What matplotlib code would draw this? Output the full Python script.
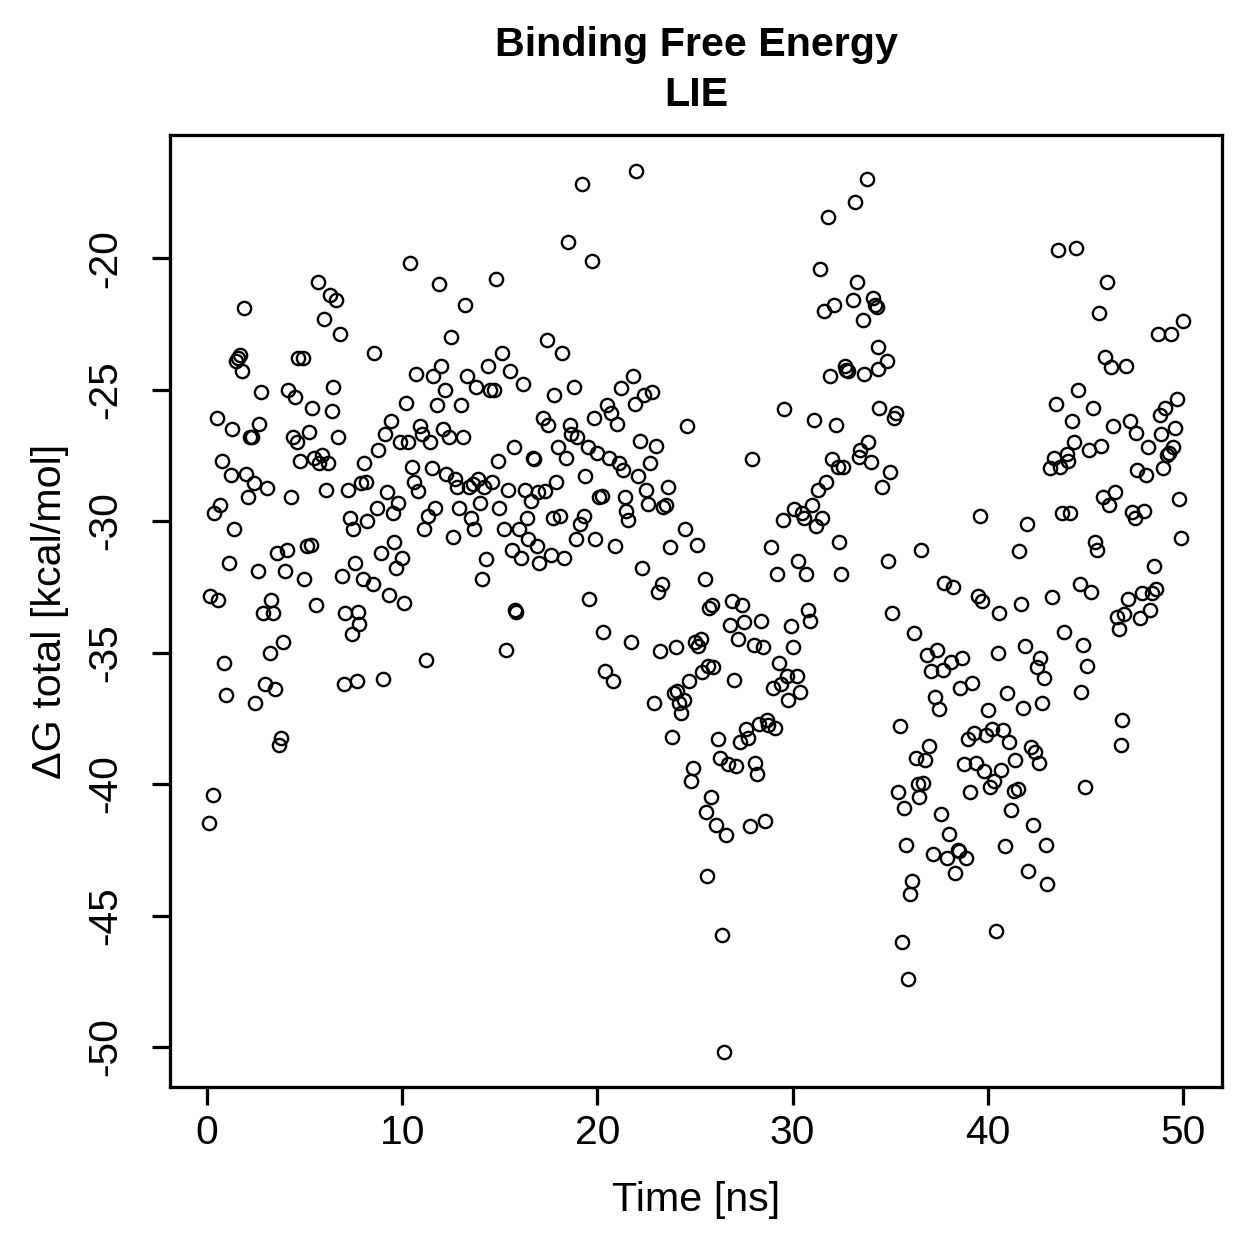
import matplotlib
matplotlib.use('Agg')
import matplotlib.pyplot as plt

plt.rcParams['font.family'] = ['Liberation Sans', 'DejaVu Sans']

# values (time in ns, dG in kcal/mol)
time_ns = [
  0.1, 0.15, 0.3, 0.35, 0.5, 0.55, 0.65, 0.75, 0.85, 0.95,
  1.1, 1.25, 1.3, 1.4, 1.5, 1.6, 1.7, 1.8, 1.9, 2.0,
  2.1, 2.2, 2.3, 2.4, 2.45, 2.6, 2.65, 2.75, 2.85, 2.95,
  3.05, 3.2, 3.3, 3.4, 3.5, 3.6, 3.7, 3.8, 3.9, 4.0,
  4.1, 4.15, 4.3, 4.4, 4.5, 4.6, 4.65, 4.75, 4.9, 4.95,
  5.1, 5.2, 5.3, 5.4, 5.5, 5.6, 5.7, 5.75, 5.9, 6.0,
  6.1, 6.2, 6.3, 6.4, 6.45, 6.6, 6.7, 6.8, 6.9, 7.0,
  7.05, 7.2, 7.3, 7.4, 7.5, 7.6, 7.7, 7.75, 7.8, 7.9,
  8.0, 8.05, 8.15, 8.2,
  8.5, 8.55, 8.7, 8.75, 8.9, 9.0, 9.1, 9.2, 9.3, 9.4,
  9.5, 9.6, 9.7, 9.8, 9.9, 10.0, 10.1, 10.2, 10.3, 10.4,
  10.5, 10.6, 10.7, 10.8, 10.9, 11.0, 11.1, 11.2, 11.3, 11.4,
  11.5, 11.6, 11.7, 11.8, 11.9, 12.0, 12.1, 12.2, 12.25, 12.4,
  12.5, 12.6, 12.7, 12.8, 12.9, 13.0, 13.1, 13.2, 13.3, 13.4,
  13.5, 13.6, 13.7, 13.8, 13.9, 14.0, 14.1, 14.2, 14.3, 14.4,
  14.5, 14.6, 14.7, 14.8, 14.9, 14.95, 15.1, 15.2, 15.3, 15.4,
  15.5, 15.6, 15.7, 15.8, 15.85, 16.0, 16.1, 16.2, 16.3, 16.4,
  16.45, 16.6, 16.7, 16.75, 16.9, 16.95, 17.0,
  17.2, 17.3, 17.4, 17.45, 17.6, 17.7, 17.8, 17.9, 18.0, 18.1,
  18.2, 18.3, 18.4, 18.5, 18.6, 18.65, 18.8, 18.9, 18.95, 19.1,
  19.2, 19.3, 19.35, 19.5, 19.55, 19.7, 19.8, 19.9, 20.0, 20.1,
  20.25, 20.3, 20.4, 20.5, 20.6, 20.7, 20.8, 20.9, 21.0, 21.1,
  21.2, 21.3, 21.4, 21.45, 21.55, 21.7, 21.8, 21.9, 22.0, 22.1,
  22.2, 22.3, 22.4, 22.5, 22.6, 22.7, 22.8, 22.9, 23.0, 23.1,
  23.2, 23.3, 23.35, 23.5, 23.6, 23.7, 23.8, 23.9, 24.0, 24.1,
  24.2, 24.3, 24.45, 24.5, 24.6, 24.7, 24.8, 24.9, 25.0, 25.1,
  25.15, 25.3, 25.35, 25.5, 25.55, 25.6, 25.65, 25.7, 25.8,
  25.85, 25.9, 26.1, 26.2, 26.3, 26.4, 26.5, 26.6, 26.7, 26.8,
  26.9, 27.0, 27.1, 27.2, 27.3, 27.4, 27.5, 27.6, 27.7, 27.8,
  27.9, 28.0, 28.05, 28.2, 28.3, 28.4, 28.5, 28.6, 28.7, 28.75,
  28.9, 29.0, 29.1, 29.2, 29.3, 29.4, 29.5, 29.55, 29.7, 29.75,
  29.9, 30.0, 30.05, 30.2, 30.3, 30.4, 30.5, 30.6, 30.7, 30.8,
  30.9, 31.0, 31.1, 31.2, 31.3, 31.4, 31.5, 31.6, 31.7, 31.8,
  31.9, 32.0, 32.1, 32.2, 32.3, 32.4, 32.5, 32.6, 32.7, 32.75,
  32.85, 33.1, 33.2, 33.3, 33.4, 33.45, 33.6, 33.65, 33.8, 33.85,
  34.0, 34.1, 34.2, 34.3, 34.35, 34.4, 34.45, 34.6,
  34.85, 34.9, 35.0, 35.1, 35.2, 35.3, 35.4, 35.5, 35.6, 35.7,
  35.8, 35.9, 36.0, 36.1, 36.2, 36.3, 36.4, 36.5, 36.6, 36.7,
  36.8, 36.9, 37.0, 37.1, 37.2, 37.3, 37.4, 37.5, 37.6, 37.7,
  37.75, 37.9, 38.0, 38.1, 38.2, 38.3, 38.45, 38.55, 38.6, 38.7,
  38.8, 38.9, 39.0, 39.1, 39.2, 39.3, 39.4, 39.5, 39.6, 39.7,
  39.8, 39.9, 40.0, 40.1, 40.2, 40.3, 40.4, 40.5, 40.6, 40.7,
  40.8, 40.9, 41.0, 41.1, 41.2, 41.35, 41.4, 41.55, 41.6, 41.7,
  41.8, 41.9, 42.0, 42.05, 42.2, 42.3, 42.4, 42.5, 42.6, 42.65,
  42.8, 42.9, 43.0, 43.05,
  43.2, 43.3, 43.4, 43.5, 43.6, 43.7, 43.8, 43.9, 44.05, 44.1,
  44.2, 44.3, 44.4, 44.5, 44.6, 44.7, 44.8, 44.9, 45.0, 45.1,
  45.2, 45.3, 45.4, 45.5, 45.6, 45.7, 45.8, 45.9, 46.0, 46.1,
  46.2, 46.3, 46.4, 46.5, 46.6, 46.7, 46.8, 46.9, 47.0, 47.1,
  47.2, 47.3, 47.4, 47.55, 47.6, 47.65, 47.8, 47.9, 48.0, 48.1,
  48.2, 48.3, 48.4, 48.5, 48.6, 48.7, 48.8, 48.9, 49.0, 49.1,
  49.2, 49.3, 49.4, 49.5, 49.6, 49.7, 49.8, 49.9, 50.0,
]

dg_total = [
  -41.5, -32.85, -40.4, -29.7, -26.1, -33.0, -29.4, -27.7, -35.4, -36.6,
  -31.6, -28.25, -26.5, -30.3, -23.9, -23.8, -23.7, -24.3, -21.9, -28.2,
  -29.1, -26.8, -26.8, -28.55, -36.9, -31.9, -26.3, -25.1, -33.5, -36.2,
  -28.75, -35.0, -33.0, -33.5, -36.4, -31.2, -38.5, -38.25, -34.6, -31.9,
  -31.1, -25.0, -29.1, -26.8, -25.3, -27.0, -23.8, -27.7, -23.8, -32.2,
  -30.95, -26.6, -30.9, -25.7, -27.6, -33.2, -20.9, -27.8, -27.5, -22.3,
  -28.8, -27.8, -21.4, -25.8, -24.9, -21.6, -26.8, -22.9, -32.1, -36.2,
  -33.5, -28.8, -29.9, -34.3, -30.3, -31.6, -36.1, -33.45, -33.9, -28.55,
  -32.2, -27.8, -28.5, -30.0,
  -32.4, -23.6, -29.5, -27.3, -31.2, -36.0, -26.7, -28.9, -32.8, -26.2,
  -29.7, -30.8, -31.8, -29.3, -27.0, -31.4, -33.1, -25.5, -27.0, -20.2,
  -27.95, -28.5, -24.4, -28.85, -26.4, -26.7, -30.3, -35.3, -29.8, -27.0,
  -28.0, -24.5, -29.5, -25.6, -21.0, -24.1, -26.5, -25.0, -28.2, -26.8,
  -23.0, -30.6, -28.4, -28.7, -29.5, -25.6, -26.8, -21.8, -24.5, -28.7,
  -29.9, -28.6, -30.3, -24.9, -28.4, -29.3, -32.2, -28.7, -31.45, -24.1,
  -25.0, -28.5, -25.0, -20.8, -27.7, -29.5, -23.6, -30.3, -34.9, -28.8,
  -24.3, -31.1, -27.2, -33.4, -33.45, -30.3, -31.4, -24.8, -28.8, -29.9,
  -30.7, -29.25, -27.6, -27.65, -30.95, -28.9, -31.6,
  -26.1, -28.85, -23.1, -26.35, -31.3, -29.9, -25.2, -28.5, -27.2, -29.8,
  -23.6, -31.4, -27.6, -19.4, -26.35, -26.7, -24.9, -30.7, -26.8, -30.1,
  -17.2, -29.8, -28.3, -27.2, -32.95, -20.1, -26.1, -30.7, -27.4, -29.1,
  -29.05, -34.2, -35.7, -25.6, -27.6, -25.9, -36.1, -30.95, -26.3, -27.8,
  -24.95, -28.05, -29.1, -29.6, -29.95, -34.6, -24.5, -25.55, -16.7, -28.3,
  -26.95, -31.8, -25.2, -28.8, -29.35, -27.8, -25.1, -36.9, -27.15, -32.7,
  -34.95, -32.4, -29.45, -29.4, -28.7, -31.0, -38.2, -36.55, -34.8, -36.45,
  -36.9, -37.3, -36.8, -30.3, -26.4, -36.1, -39.9, -39.4, -34.6, -30.9,
  -34.75, -34.5, -35.75, -32.2, -41.05, -43.5, -35.5, -33.3, -40.5,
  -33.2, -35.55, -41.55, -38.3, -39.0, -45.75, -50.2, -41.95, -39.25, -33.95,
  -33.05, -36.05, -39.3, -34.5, -38.4, -33.2, -33.85, -37.9, -38.25, -41.6,
  -27.65, -34.7, -39.2, -39.6, -37.7, -33.8, -34.8, -41.4, -37.55, -37.75,
  -31.0, -36.35, -37.85, -32.0, -35.4, -36.2, -29.95, -25.75, -35.9, -36.8,
  -34.0, -34.8, -29.55, -35.9, -31.5, -36.5, -29.7, -29.9, -32.0, -33.4,
  -33.8, -29.4, -26.15, -30.2, -28.8, -20.4, -29.9, -22.0, -28.5, -18.45,
  -24.5, -27.65, -21.8, -26.35, -27.95, -30.8, -32.0, -27.95, -24.1, -24.25,
  -24.3, -21.6, -17.85, -20.9, -27.55, -27.3, -22.35, -24.4, -17.0, -27.0,
  -27.75, -21.5, -21.8, -21.85, -23.4, -24.2, -25.7, -28.7,
  -23.9, -31.5, -28.15, -33.5, -26.1, -25.9, -40.3, -37.8, -46.0, -40.9,
  -42.3, -47.4, -44.2, -43.7, -34.25, -39.0, -40.0, -40.5, -31.1, -39.95,
  -39.1, -35.1, -38.55, -35.7, -42.65, -36.7, -34.9, -37.15, -41.15, -35.65,
  -32.35, -42.8, -41.9, -35.35, -32.5, -43.4, -42.5, -42.55, -36.35, -35.2,
  -39.25, -42.8, -38.3, -40.3, -36.15, -38.05, -39.2, -32.85, -29.8, -33.05,
  -39.5, -38.15, -37.2, -40.1, -37.9, -39.9, -45.6, -35.0, -33.5, -39.45,
  -37.95, -42.35, -36.55, -38.4, -41.0, -40.25, -39.1, -40.2, -31.15, -33.15,
  -37.1, -34.75, -30.1, -43.3, -38.6, -41.55, -38.8, -35.55, -39.2, -35.2,
  -36.9, -35.95, -42.3, -43.8,
  -28.0, -32.9, -27.6, -25.55, -19.7, -27.95, -29.7, -34.2, -27.45, -27.7,
  -29.7, -26.2, -27.0, -19.6, -25.0, -32.4, -36.5, -34.7, -40.1, -35.5,
  -27.3, -32.7, -25.7, -30.8, -31.1, -22.1, -27.15, -29.1, -23.75, -20.9,
  -29.4, -24.15, -26.4, -28.9, -33.65, -34.1, -38.5, -37.55, -33.55, -24.1,
  -32.95, -26.2, -29.65, -29.9, -26.65, -28.05, -33.7, -32.75, -29.6, -28.25,
  -27.2, -33.4, -32.75, -31.7, -32.6, -22.9, -25.95, -26.7, -28.0, -25.7,
  -27.5, -27.4, -22.9, -27.2, -26.45, -25.35, -29.15, -30.65, -22.4,
]

xticks = [0, 10, 20, 30, 40, 50]
yticks = [-50, -45, -40, -35, -30, -25, -20]

W = 1259
fig = plt.figure(figsize=(W / 180.0, W / 180.0), dpi=180, facecolor='white')
ax = fig.add_axes([170.0 / W, 1 - 1087.0 / W, (1222.0 - 170.0) / W, (1087.0 - 135.0) / W])

ax.plot(time_ns, dg_total, linestyle='none', marker='o', markersize=5.3,
        markerfacecolor='none', markeredgecolor='black', markeredgewidth=0.95)

ax.set_xlim(-1.9, 52.0)
ax.set_ylim(-51.52, -15.32)

for sp in ax.spines.values():
  sp.set_linewidth(1.3)
  sp.set_color('black')

ax.set_xticks(xticks)
ax.set_xticklabels([str(v) for v in xticks])
ax.set_yticks(yticks)
ax.set_yticklabels([str(v) for v in yticks], rotation=90, va='center')
ax.tick_params(axis='both', direction='out', length=7.2, width=1.3, labelsize=16.3, colors='black')
ax.tick_params(axis='x', pad=3.5)
ax.tick_params(axis='y', pad=11)

fig.text(696.0 / W, 1 - 1200.0 / W, 'Time [ns]', ha='center', va='center', fontsize=16.5)
fig.text(50.0 / W, 1 - 611.0 / W, '\u0394G total [kcal/mol]', ha='center', va='center',
         rotation=90, fontsize=16.5)
fig.text(696.0 / W, 1 - 45.0 / W, 'Binding Free Energy', ha='center', va='center',
         fontsize=16.5, fontweight='bold')
fig.text(696.0 / W, 1 - 95.0 / W, 'LIE', ha='center', va='center',
         fontsize=16.5, fontweight='bold')

fig.savefig('out.png', dpi=180, facecolor='white')
